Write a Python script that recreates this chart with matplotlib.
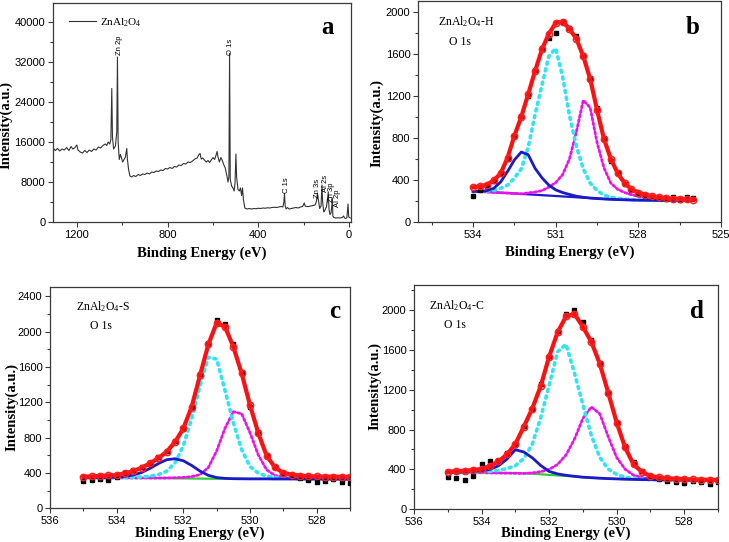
"""
XPS spectra of ZnAl2O4: survey scan (a) and O 1s fits (b-d)
"""

import matplotlib
matplotlib.use('Agg')
import matplotlib.pyplot as plt
from matplotlib.ticker import MultipleLocator

plt.rcParams['font.family'] = 'Liberation Sans'
plt.rcParams['mathtext.fontset'] = 'custom'
plt.rcParams['mathtext.rm'] = 'Liberation Serif'
plt.rcParams['mathtext.it'] = 'Liberation Serif:italic'

SERIF = 'Liberation Serif'

# ---- survey spectrum (panel a) ----
SURVEY_E = [1305, 1295, 1285, 1275, 1265, 1255, 1245, 1235, 1225, 1218, 1210, 1200,
            1195, 1185, 1175, 1165, 1155, 1145, 1135, 1125, 1115, 1105, 1095, 1085,
            1075, 1068, 1062, 1055, 1050, 1046, 1043, 1038, 1030, 1024, 1021, 1018,
            1013, 1008, 1003, 998, 992, 986, 980, 977, 972, 966, 958, 950, 940, 930,
            920, 910, 900, 890, 880, 870, 860, 850, 840, 830, 820, 810, 800, 790, 780,
            770, 760, 750, 740, 730, 720, 710, 700, 690, 680, 670, 662, 657, 652, 645,
            638, 630, 622, 615, 608, 600, 593, 587, 582, 578, 572, 565, 560, 553, 546,
            540, 534, 530, 527, 524, 518, 512, 507, 503, 499, 496, 490, 484, 479, 474,
            470, 466, 460, 450, 440, 430, 420, 410, 400, 390, 380, 370, 360, 350, 340,
            330, 320, 310, 300, 292, 288, 285, 282, 278, 272, 265, 255, 245, 235, 225,
            215, 205, 198, 194, 188, 178, 168, 158, 150, 144, 140, 136, 130, 124, 120,
            117, 112, 108, 104, 100, 96, 92, 89, 85, 80, 76, 74, 72, 68, 60, 50, 40, 30,
            25, 20, 15, 10, 5, 2, -5]
SURVEY_I = [14800, 14300, 14700, 14200, 14600, 14400, 14900, 14300, 15100, 14600, 14800, 15400,
            14400, 14000, 13800, 14300, 13900, 14400, 14100, 14600, 14400, 15000, 14800, 15300,
            15600, 15300, 16000, 15600, 16500, 26700, 17000, 14600, 15200, 18000, 33000, 16000,
            12500, 13500, 12800, 12000, 12500, 13000, 14700, 12500, 10500, 9200, 9000, 9300, 9100, 9500,
            9300, 9600, 9500, 9800, 9600, 10000, 9900, 10200, 10100, 10400, 10300, 10700, 10600, 10900, 10700,
            11100, 11000, 11400, 11300, 11700, 11600, 12000, 11900, 12200, 12600, 12800, 13500, 13700, 12600, 12800,
            12400, 12000, 12300, 11900, 12400, 12900, 12500, 13300, 14100, 13000, 12000, 12900, 12400, 11500, 10800,
            9500, 8000, 9000, 33700, 8500, 7200, 6800, 6200, 7800, 13600, 9000, 6500, 6200, 6800, 5300,
            6800, 4500, 2800, 2600, 2700, 2600, 2700, 2650, 2750, 2700, 2800, 2750, 2850, 2800, 2900,
            2950, 2900, 3000, 3100, 3000, 4000, 5700, 3200, 2600, 2900, 2600, 2700, 2800, 2900, 2800,
            3000, 3100, 3800, 3200, 3100, 3100, 3200, 3300, 3400, 4200, 5800, 4500, 2700, 3200, 7400,
            4000, 2000, 2200, 2700, 3000, 4500, 6000, 2600, 1500, 1800, 3500, 4800, 1200, 900, 800, 850, 800, 900,
            1200, 800, 700, 900, 3600, 1000, 800]
PEAK_LABELS = ['Zn 2p', 'O 1s', 'C 1s', 'Zn 3s', 'Al 2s', 'Zn 3p', 'Al 2p']
PEAK_LABEL_E = [1010, 525, 275, 138, 106, 76, 50]
PEAK_LABEL_I = [33350, 33350, 5800, 4800, 6000, 4000, 3000]

# ---- O 1s, ZnAl2O4-H (panel b) ----
B_E = [534.0, 533.75, 533.5, 533.25, 533.0, 532.75, 532.5, 532.25, 532.0, 531.75, 531.5,
       531.25, 531.0, 530.75, 530.5, 530.25, 530.0, 529.75, 529.5, 529.25, 529.0, 528.75,
       528.5, 528.25, 528.0, 527.75, 527.5, 527.25, 527.0, 526.75, 526.5, 526.25, 526.0]
B_RAW = [245, 300, 340, 390, 470, 600, 815, 1010, 1200, 1440, 1650, 1750, 1800, 1900, 1840,
         1770, 1590, 1370, 1080, 800, 580, 470, 360, 300, 265, 250, 240, 225, 215, 235, 205, 240, 225]
B_FIT = [330, 338, 355, 395, 462, 610, 820, 1000, 1215, 1435, 1640, 1790, 1890, 1905, 1835,
         1740, 1575, 1360, 1065, 790, 600, 462, 370, 312, 280, 260, 245, 235, 228, 222, 218, 215, 213]
B_BG = [290, 288, 285, 282, 278, 275, 271, 267, 263, 259, 255, 251, 247, 243, 239, 235, 231,
        227, 223, 219, 216, 213, 211, 209, 208, 207, 206, 205, 205, 204, 204, 203, 203]
B_P1 = [0, 4, 13, 38, 102, 205, 319, 398, 377, 251, 165, 99, 58, 37, 23, 10, 4, 1,
        0, 0, 0, 0, 0, 0, 0, 0, 0, 0, 0, 0, 0, 0, 0]
B_P2 = [0, 3, 9, 18, 42, 75, 146, 238, 447, 761, 1045, 1324, 1403, 1137, 771, 485, 274,
        143, 77, 36, 19, 12, 7, 3, 1, 0, 0, 0, 0, 0, 0, 0, 0]
B_P3 = [0, 0, 0, 0, 0, 0, 0, 0, 14, 26, 43, 81, 128, 207, 361, 623, 925, 860, 532, 296,
        154, 97, 69, 49, 37, 28, 19, 13, 8, 6, 4, 3, 2]

# ---- O 1s, ZnAl2O4-S (panel c) and ZnAl2O4-C (panel d) ----
CD_E = [535.0, 534.75, 534.5, 534.25, 534.0, 533.75, 533.5, 533.25, 533.0, 532.75, 532.5,
        532.25, 532.0, 531.75, 531.5, 531.25, 531.0, 530.75, 530.5, 530.25, 530.0, 529.75,
        529.5, 529.25, 529.0, 528.75, 528.5, 528.25, 528.0, 527.75, 527.5, 527.25, 527.0]
C_RAW = [310, 320, 335, 318, 350, 400, 430, 465, 500, 580, 650, 760, 900, 1140, 1520, 1870,
         2130, 2090, 1860, 1540, 1150, 860, 600, 470, 400, 370, 345, 320, 300, 310, 330, 300, 290]
C_FIT = [358, 362, 367, 372, 377, 395, 422, 460, 509, 568, 640, 750, 904, 1150, 1505, 1855,
         2100, 2055, 1828, 1526, 1168, 848, 594, 462, 400, 382, 369, 364, 361, 359, 358, 357, 356]
C_BG = [345, 345, 345, 345, 344, 344, 343, 343, 342, 341, 340, 339, 338, 337, 336, 335, 334,
        334, 333, 333, 333, 333, 333, 332, 332, 332, 332, 332, 331, 331, 331, 331, 330]
C_P1 = [0, 1, 2, 4, 8, 18, 34, 62, 110, 165, 210, 222, 200, 148, 85, 38, 14, 5, 2, 1,
        0, 0, 0, 0, 0, 0, 0, 0, 0, 0, 0, 0, 0]
C_P2 = [0, 0, 0, 1, 2, 4, 7, 12, 22, 40, 80, 175, 370, 680, 1050, 1375, 1355, 1000, 635,
        330, 140, 65, 32, 18, 10, 6, 4, 2, 1, 0, 0, 0, 0]
C_P3 = [0, 0, 0, 0, 0, 0, 0, 0, 1, 2, 4, 7, 12, 22, 45, 127, 316, 573, 760, 737, 522, 270,
        102, 40, 20, 11, 6, 3, 2, 1, 0, 0, 0]

D_RAW = [325, 315, 295, 330, 450, 480, 480, 560, 650, 840, 1010, 1260, 1540, 1790, 1960, 2000,
         1880, 1700, 1470, 1170, 870, 630, 470, 380, 330, 300, 285, 275, 268, 280, 275, 250, 270]
D_FIT = [377, 382, 387, 394, 405, 434, 480, 550, 655, 828, 1010, 1235, 1531, 1775, 1935, 1960,
         1830, 1680, 1460, 1170, 870, 620, 450, 375, 335, 320, 312, 306, 302, 300, 298, 296, 294]
D_BG = [368, 368, 367, 367, 366, 365, 364, 363, 362, 360, 357, 351, 345, 340, 335, 329, 322,
        317, 312, 308, 305, 302, 300, 298, 297, 296, 295, 294, 293, 292, 291, 291, 290]
D_P1 = [2, 4, 7, 12, 20, 35, 72, 140, 236, 215, 160, 89, 35, 15, 6, 2,
        0, 0, 0, 0, 0, 0, 0, 0, 0, 0, 0, 0, 0, 0, 0, 0, 0]
D_P2 = [0, 1, 2, 4, 8, 15, 27, 45, 75, 150, 296, 566, 898, 1240, 1320, 1040, 727, 424, 210,
        95, 45, 20, 8, 3, 1, 0, 0, 0, 0, 0, 0, 0, 0]
D_P3 = [0, 0, 0, 0, 0, 0, 0, 0, 0, 0, 8, 26, 55, 110, 210, 375, 590, 710, 645, 420, 215,
        100, 42, 20, 10, 5, 3, 1, 0, 0, 0, 0, 0]

FIT_PANELS = [
    ('b', 'ZnAl$_2$O$_4$-H', B_E, B_RAW, B_FIT, B_BG, B_P1, B_P2, B_P3, '#1a1acc'),
    ('c', 'ZnAl$_2$O$_4$-S', CD_E, C_RAW, C_FIT, C_BG, C_P1, C_P2, C_P3, '#33cc33'),
    ('d', 'ZnAl$_2$O$_4$-C', CD_E, D_RAW, D_FIT, D_BG, D_P1, D_P2, D_P3, '#33cc33'),
]

W, H = 729, 542


def px_axes(fig, left, top, right, bottom):
    """Axes placed by pixel box of the reference"""
    return fig.add_axes([left / W, 1 - bottom / H, (right - left) / W, (bottom - top) / H])


def style_axes(ax):
    for sp in ax.spines.values():
        sp.set_color('#3a3a3a')
        sp.set_linewidth(0.9)
    ax.tick_params(which='both', direction='out', top=False, right=False,
                   labelsize=8, color='#3a3a3a', width=0.8, pad=2)
    ax.tick_params(which='major', length=3.5)
    ax.tick_params(which='minor', length=2)


def add_labels(ax, xy_x, xy_y):
    ax.set_xlabel('Binding Energy (eV)', family=SERIF, fontweight='bold', fontsize=10.5, va='center')
    ax.set_ylabel('Intensity(a.u.)', family=SERIF, fontweight='bold', fontsize=10.5, va='center')
    ax.xaxis.set_label_coords(0.5, xy_x)
    ax.yaxis.set_label_coords(xy_y[0], xy_y[1])


fig = plt.figure(figsize=(W / 100, H / 100), dpi=100)

# Panel a: survey
ax_a = px_axes(fig, 53, 3, 351, 222)
ax_a.plot(SURVEY_E, SURVEY_I, color='#333333', lw=0.8, label='ZnAl$_2$O$_4$')
for lab, e, i in zip(PEAK_LABELS, PEAK_LABEL_E, PEAK_LABEL_I):
    ax_a.text(e, i, lab, rotation=90, ha='center', va='bottom', fontsize=5.5)
ax_a.set_xlim(1305, -8)
ax_a.set_ylim(0, 43800)
ax_a.set_xticks([1200, 800, 400, 0])
ax_a.xaxis.set_minor_locator(MultipleLocator(200))
ax_a.set_yticks(range(0, 40001, 8000))
ax_a.yaxis.set_minor_locator(MultipleLocator(4000))
style_axes(ax_a)
add_labels(ax_a, -0.142, (-0.158, 0.443))
ax_a.legend(loc='upper left', frameon=False, handlelength=2.4, handletextpad=0.35,
            prop={'family': SERIF, 'size': 8}, bbox_to_anchor=(0.02, 0.985))
fig.text(328 / W, 1 - 27 / H, 'a', family=SERIF, fontweight='bold', fontsize=18,
         ha='center', va='center')

# Panels b-d: O 1s fits
boxes = {'b': (418, 1, 721, 222), 'c': (50, 287, 350, 508.3), 'd': (414, 285, 718, 509.3)}
limits = {'b': ((536, 525), 2100), 'c': ((536, 527), 2505), 'd': ((536, 527), 2250)}
label_pos = {'b': (-0.136, (-0.135, 0.448)), 'c': (-0.111, (-0.127, 0.457)),
             'd': (-0.106, (-0.128, 0.55))}
sample_pos = {'b': ((466, 22), (460, 42), (693, 28)),
              'c': ((103, 307), (101, 326), (335, 312)),
              'd': ((457, 306), (455, 325), (697, 312))}

for key, name, energy, raw, fit, bg, p1, p2, p3, bg_color in FIT_PANELS:
    ax = px_axes(fig, *boxes[key])
    ax.plot(energy, bg, color=bg_color, lw=1.6, zorder=1)
    ax.plot(energy, [b + p for b, p in zip(bg, p3)], color='#ee11ee', lw=2.0,
            ls=(0, (0.8, 0.9)), dash_capstyle='round', zorder=2)
    ax.plot(energy, [b + p for b, p in zip(bg, p2)], color='#30e4f4', lw=2.6,
            ls=(0, (0.6, 1.3)), dash_capstyle='round', zorder=3)
    ax.plot(energy, [b + p for b, p in zip(bg, p1)], color='#1a1acc', lw=2.0, zorder=4)
    ax.plot(energy, raw, ls='none', marker='s', ms=2.6, color='black', zorder=5)
    ax.plot(energy, fit, color='#ff1010', lw=3.0, marker='o', ms=4.5, mfc='none',
            mec='#ff2020', mew=1.1, zorder=6)

    xlim, ytop = limits[key]
    ax.set_xlim(*xlim)
    ax.set_ylim(0, ytop)
    if key == 'b':
        ax.set_xticks([534, 531, 528, 525])
        ax.xaxis.set_minor_locator(MultipleLocator(1.5))
        ax.set_yticks(range(0, 2001, 400))
    else:
        ax.set_xticks([536, 534, 532, 530, 528])
        ax.xaxis.set_minor_locator(MultipleLocator(1))
        ax.set_yticks(range(0, int(ytop), 400))
    ax.yaxis.set_minor_locator(MultipleLocator(200))
    style_axes(ax)
    add_labels(ax, *label_pos[key])

    (sx, sy), (ox, oy), (lx, ly) = sample_pos[key]
    fig.text(sx / W, 1 - sy / H, name, family=SERIF, fontsize=8.5, ha='center', va='center')
    fig.text(ox / W, 1 - oy / H, 'O 1s', family=SERIF, fontsize=8.5, ha='center', va='center')
    fig.text(lx / W, 1 - ly / H, key, family=SERIF, fontweight='bold', fontsize=18,
             ha='center', va='center')

fig.savefig('out.png', dpi=100)
